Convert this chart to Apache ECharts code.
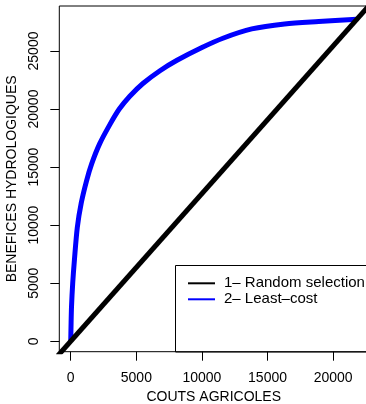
<!DOCTYPE html>
<html>
<head>
<meta charset="utf-8">
<script src="https://cdn.jsdelivr.net/npm/echarts@6/dist/echarts.min.js"></script>
<style>
html,body{margin:0;padding:0;background:#fff;}
#chart{width:366px;height:404px;}
</style>
</head>
<body>
<div id="chart"></div>
<script>
// Data
const seriesNames = ['1\u2013 Random selection', '2\u2013 Least\u2013cost'];
const xTicks = [0, 5000, 10000, 15000, 20000];
const yTicks = [0, 5000, 10000, 15000, 20000, 25000];
// Random selection: straight line through origin (drawn across the whole plot)
const randomX = [-1000, 23000];
const randomY = [-1272, 29256];
// Least-cost curve
const leastCostX = [0, 20, 60, 150, 280, 500, 800, 1200, 1600, 2200, 3000, 3700, 4500, 5500, 6800, 8100, 10000, 11600, 13800, 16300, 18900, 21800];
const leastCostY = [0, 1200, 3000, 5000, 7000, 9800, 11900, 13800, 15300, 17000, 18700, 20000, 21100, 22200, 23300, 24200, 25300, 26100, 26900, 27330, 27540, 27730];

const font = 'Liberation Sans, Arial, Helvetica, sans-serif';
const chart = echarts.init(document.getElementById('chart'), null, {renderer: 'canvas'});
chart.setOption({
  animation: false,
  backgroundColor: '#fff',
  grid: {left: 59.3, right: -2.2, top: 6, bottom: 52.3, show: true, borderColor: '#000', borderWidth: 1, backgroundColor: 'transparent', containLabel: false, outerBoundsMode: 'none'},
  xAxis: {
    type: 'value', min: -872, max: 22672,
    name: 'COUTS AGRICOLES', nameLocation: 'middle', nameGap: 37.3,
    nameTextStyle: {fontFamily: font, fontSize: 14, color: '#000'},
    axisLine: {show: false, onZero: false},
    splitLine: {show: false},
    axisTick: {show: true, length: 9, lineStyle: {color: '#000', width: 1}, customValues: xTicks},
    axisLabel: {fontFamily: font, fontSize: 14, color: '#000', margin: 19.5, customValues: xTicks, formatter: v => String(v)}
  },
  yAxis: {
    type: 'value', min: -900, max: 28875,
    name: 'BENEFICES HYDROLOGIQUES', nameLocation: 'middle', nameGap: 30.5, nameRotate: 90,
    nameTextStyle: {fontFamily: font, fontSize: 14, color: '#000'},
    axisLine: {show: false, onZero: false},
    splitLine: {show: false},
    axisTick: {show: true, length: 9, lineStyle: {color: '#000', width: 1}, customValues: yTicks},
    axisLabel: {fontFamily: font, fontSize: 14, color: '#000', margin: 17.8, rotate: 90, customValues: yTicks, formatter: v => String(v)}
  },
  legend: {
    data: seriesNames,
    orient: 'vertical', left: 188, top: 275.3, padding: 0, itemGap: 0,
    icon: 'rect', itemWidth: 27, itemHeight: 2,
    textStyle: {fontFamily: font, fontSize: 15, color: '#000', lineHeight: 16, padding: [0, 0, 0, 4]}
  },
  graphic: [{
    type: 'rect', shape: {x: 175.5, y: 265.5, width: 220, height: 86.5},
    style: {fill: 'none', stroke: '#000', lineWidth: 1}, z: 1
  }],
  series: [
    {
      name: seriesNames[0], type: 'line', z: 4,
      data: randomX.map((x, i) => [x, randomY[i]]),
      showSymbol: false, symbol: 'none', clip: true,
      lineStyle: {color: '#000', width: 5}, itemStyle: {color: '#000'}
    },
    {
      name: seriesNames[1], type: 'line', z: 3,
      data: leastCostX.map((x, i) => [x, leastCostY[i]]),
      showSymbol: false, symbol: 'none', clip: true, smooth: 0.3,
      lineStyle: {color: '#0000ff', width: 5}, itemStyle: {color: '#0000ff'}
    }
  ]
});
</script>
</body>
</html>
